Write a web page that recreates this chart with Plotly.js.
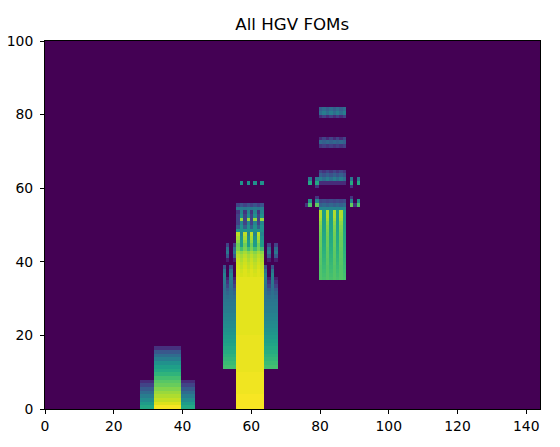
<!DOCTYPE html>
<html><head><meta charset="utf-8">
<script src="https://cdn.plot.ly/plotly-3.0.1.min.js"></script>
<style>html,body{margin:0;padding:0;background:#fff}</style>
</head><body><div id="chart" style="width:560px;height:447px"></div>
<script>
const xCount = 144, yCount = 100;
const xTicks = [0,20,40,60,80,100,120,140];
const yTicks = [0,20,40,60,80,100];

// Block A: values listed from the lowest row upward
const aSideCols = [28,29,30,31,40,41,42,43];
const aSide = [.6,.55,.48,.42,.35,.28,.2,.12];
const aCenterCols = [32,33,34,35,36,37,38,39];
const aCenter = [.99,.95,.91,.88,.85,.81,.77,.74,.7,.65,.6,.56,.5,.42,.35,.27,.14];

// Block B
const bEvenCols = [56,58,60,62];
const bOddCols = [57,59,61,63];
const bEven = [.99,.99,.99,.99,.98,.98,.98,.98,.98,.98,.97,.97,.97,.97,.97,.97,.97,.97,.97,.97,
  .96,.96,.96,.96,.96,.96,.96,.96,.96,.96,.96,.96,.96,.96,.96,.96,.95,.95,.94,.93,.92,.9,.87,.8,.78,.83,.87,.9,
  .5,.3,.2,.2,.2,.15,.4,.2];
const bOdd = [.99,.99,.99,.99,.98,.98,.98,.98,.98,.98,.97,.97,.97,.97,.97,.97,.97,.97,.97,.97,
  .96,.96,.96,.96,.96,.96,.96,.96,.96,.96,.96,.96,.96,.96,.96,.96,.94,.93,.91,.9,.88,.86,.82,.7,.55,.55,.5,.45,
  .5,.5,.45,.85,.5,.45,.42,.25,0,0,0,0,0,.5];
const bSideEvenCols = [52,54,64,66];
const bSideOddCols = [53,55,65,67];
const bSideStart = 11;
const bSideEven = [.7,.68,.66,.64,.62,.6,.58,.56,.54,.52,.5,.48,.47,.45,.44,.42,.41,.4,.39,.38,.37,.36,.38,.4,.42,.44,.38,.25];
const bSideOdd = [.7,.68,.66,.64,.62,.6,.58,.56,.54,.52,.5,.48,.47,.45,.44,.42,.41,.4,.39,.36,.32,.28,.2,.14,.08,0,0,0,0,.08,.28,.4,.35,.2];

// Block C
const cEvenCols = [80,82,84,86];
const cOddCols = [81,83,85,87];
const cStart = 35;
const cEven = [.73,.73,.73,.73,.74,.74,.75,.75,.76,.77,.77,.78,.79,.8,.81,.83,.86,.88,.88,.45,.3,.2];
const cOdd = [.71,.7,.69,.68,.67,.66,.65,.64,.63,.62,.61,.6,.59,.58,.57,.56,.55,.55,.55,.45,.33,.22];
const cUpperStart = 61;
const cUpperEven = [.12,.42,.3,.2,0,0,0,0,0,0,.15,.33,.12,0,0,0,0,0,.12,.35,.3];
const cUpperOdd = [.12,.36,.25,.15,0,0,0,0,0,0,.18,.3,.2,0,0,0,0,0,.18,.42,.35];

// Isolated side cells
const cDotColsA = [77,91];
const cDotColsB = [79,89];
const cDotStart = 55;
const cDotsA = [.72,.5,0,0,0,0,.6,.4];
const cDotsB = [.76,.45,.15,0,0,.15,.6,.4];
const cFaintCols = [76,90];
const cFaint = [.15];

const z = [];
for (let r = 0; r < yCount; r++) z.push(new Array(xCount).fill(0));
function paint(cols, start, values) {
  cols.forEach(c => values.forEach((v, i) => { z[start + i][c] = v; }));
}
paint(aSideCols, 0, aSide);
paint(aCenterCols, 0, aCenter);
paint(bSideEvenCols, bSideStart, bSideEven);
paint(bSideOddCols, bSideStart, bSideOdd);
paint(bEvenCols, 0, bEven);
paint(bOddCols, 0, bOdd);
paint(cEvenCols, cStart, cEven);
paint(cOddCols, cStart, cOdd);
paint(cEvenCols, cUpperStart, cUpperEven);
paint(cOddCols, cUpperStart, cUpperOdd);
paint(cDotColsA, cDotStart, cDotsA);
paint(cDotColsB, cDotStart, cDotsB);
paint(cFaintCols, cDotStart, cFaint);

const font = {family: '"DejaVu Sans", sans-serif', size: 13.9, color: '#000'};
const axis = {showgrid:false, zeroline:false, showline:true, mirror:true, linecolor:'#000', linewidth:1,
  ticks:'outside', ticklen:4, tickwidth:1, tickcolor:'#000', tickfont:font};
Plotly.newPlot('chart', [{
  type:'heatmap', z:z, x0:0.15, dx:1, y0:0.5, dy:1, zmin:0, zmax:1,
  colorscale:'Viridis', showscale:false, zsmooth:false, hoverinfo:'skip'
}], {
  width:560, height:447, paper_bgcolor:'#fff', plot_bgcolor:'#440154',
  margin:{l:44.6, r:19.6, t:40.5, b:37.5, pad:0},
  title:{text:'All HGV FOMs', font:{family:font.family, size:16.67, color:'#000'}, x:(44+540.5)/2/560, xanchor:'center', y:0.945, yanchor:'middle'},
  xaxis:Object.assign({range:[0,144], tickmode:'array', tickvals:xTicks, ticktext:xTicks.map(String)}, axis),
  yaxis:Object.assign({range:[0,100], tickmode:'array', tickvals:yTicks, ticktext:yTicks.map(String), ticklabelstandoff:4}, axis)
}, {displayModeBar:false, staticPlot:true});
</script></body></html>
